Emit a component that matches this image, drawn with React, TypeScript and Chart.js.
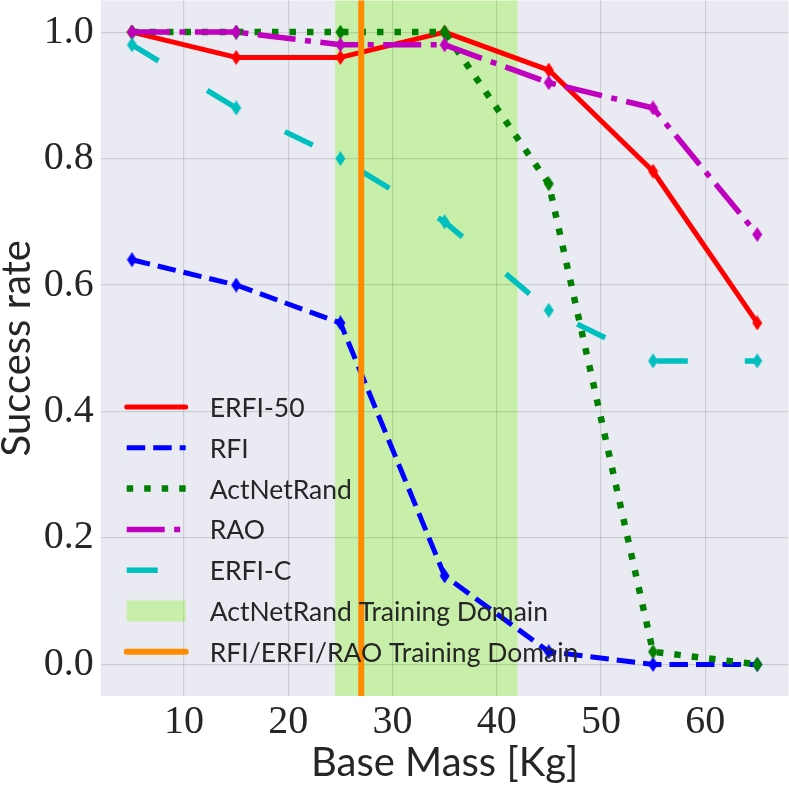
import React, { useEffect, useRef } from 'react';
import { Chart, registerables } from 'chart.js';

Chart.register(...registerables);

// values
const massKg = [5, 15, 25, 35, 45, 55, 65];
const erfi50 = [1.0, 0.96, 0.96, 1.0, 0.94, 0.78, 0.54];
const rfi = [0.64, 0.6, 0.54, 0.14, 0.02, 0.0, 0.0];
const actNetRand = [1.0, 1.0, 1.0, 1.0, 0.76, 0.02, 0.0];
const rao = [1.0, 1.0, 0.98, 0.98, 0.92, 0.88, 0.68];
const erfiC = [0.98, 0.88, 0.8, 0.7, 0.56, 0.48, 0.48];

const xTicks = [10, 20, 30, 40, 50, 60];
const yTicks = [0, 0.2, 0.4, 0.6, 0.8, 1.0];

const actNetRandDomain = [24.5, 42];
const rfiDomainMass = 27;

const TEXT = '#262626';
const GRID = 'rgba(0,0,0,0.12)';
const SPAN = 'rgba(124,252,0,0.3)';
const ORANGE = '#ff8c00';

const series = [
  { label: 'ERFI-50', data: erfi50, color: '#ff0000', width: 5, dash: [] as number[], cap: 'round' },
  { label: 'RFI', data: rfi, color: '#0000ff', width: 5, dash: [18.5, 8], cap: 'butt' },
  { label: 'ActNetRand', data: actNetRand, color: '#008000', width: 6.5, dash: [6.5, 11], cap: 'butt' },
  { label: 'RAO', data: rao, color: '#bf00bf', width: 5.5, dash: [38, 9.5, 6, 9.5], cap: 'butt' },
  { label: 'ERFI-C', data: erfiC, color: '#00bfbf', width: 5.5, dash: [31, 57], cap: 'butt' },
];

function thinDiamond(color: string) {
  const c = document.createElement('canvas');
  c.width = 11;
  c.height = 15;
  const g = c.getContext('2d')!;
  g.fillStyle = color;
  g.beginPath();
  g.moveTo(5.5, 0);
  g.lineTo(10.5, 7.5);
  g.lineTo(5.5, 15);
  g.lineTo(0.5, 7.5);
  g.closePath();
  g.fill();
  return c;
}

const backdropPlugin = {
  id: 'backdrop',
  beforeDraw(chart: any) {
    const { ctx, chartArea, scales } = chart;
    ctx.save();
    ctx.fillStyle = '#eaeaf2';
    ctx.fillRect(chartArea.left, chartArea.top, chartArea.width, chartArea.height);
    const a = scales.x.getPixelForValue(actNetRandDomain[0]);
    const b = scales.x.getPixelForValue(actNetRandDomain[1]);
    ctx.fillStyle = SPAN;
    ctx.fillRect(a, chartArea.top, b - a, chartArea.height);
    ctx.restore();
  },
  afterDatasetsDraw(chart: any) {
    const { ctx, chartArea, scales } = chart;
    const x = scales.x.getPixelForValue(rfiDomainMass);
    ctx.save();
    ctx.strokeStyle = ORANGE;
    ctx.lineWidth = 6;
    ctx.beginPath();
    ctx.moveTo(x, chartArea.top);
    ctx.lineTo(x, chartArea.bottom);
    ctx.stroke();
    ctx.restore();
  },
};

const legendPlugin = {
  id: 'plotLegend',
  afterDraw(chart: any) {
    const { ctx, chartArea } = chart;
    const x0 = chartArea.left + 26;
    const x1 = x0 + 59;
    const tx = chartArea.left + 109;
    const rowY = (i: number) => chartArea.bottom - 289 + i * 40.8;
    ctx.save();
    ctx.font = '26.5px Lato';
    ctx.fillStyle = TEXT;
    ctx.textBaseline = 'middle';
    ctx.textAlign = 'left';
    series.forEach((s, i) => {
      const y = rowY(i);
      ctx.strokeStyle = s.color;
      ctx.lineWidth = s.width;
      ctx.lineCap = s.cap;
      ctx.setLineDash(s.dash);
      ctx.beginPath();
      ctx.moveTo(x0, y);
      ctx.lineTo(x1, y);
      ctx.stroke();
      ctx.setLineDash([]);
      ctx.fillText(s.label, tx, y + 1.5);
    });
    let y = rowY(5);
    ctx.fillStyle = SPAN;
    ctx.fillRect(x0, y - 10.5, x1 - x0, 21);
    ctx.fillStyle = TEXT;
    ctx.fillText('ActNetRand Training Domain', tx, y + 1.5);
    y = rowY(6);
    ctx.strokeStyle = ORANGE;
    ctx.lineWidth = 6;
    ctx.lineCap = 'round';
    ctx.beginPath();
    ctx.moveTo(x0, y);
    ctx.lineTo(x1, y);
    ctx.stroke();
    ctx.fillText('RFI/ERFI/RAO Training Domain', tx, y + 1.5);
    ctx.restore();
  },
};

const App: React.FC = () => {
  const canvasRef = useRef<HTMLCanvasElement>(null);
  const chartRef = useRef<Chart>();

  useEffect(() => {
    if (!canvasRef.current) return;
    const ctx = canvasRef.current.getContext('2d');
    if (!ctx) return;

    chartRef.current = new Chart(ctx, {
      type: 'line',
      data: {
        datasets: series.map((s, i) => ({
          label: s.label,
          data: massKg.map((m, k) => ({ x: m, y: s.data[k] })),
          borderColor: s.color,
          backgroundColor: s.color,
          borderWidth: s.width,
          borderDash: s.dash,
          borderCapStyle: s.cap as CanvasLineCap,
          borderJoinStyle: 'round',
          pointStyle: thinDiamond(s.color) as any,
          pointRadius: 0.5,
          pointHoverRadius: 0,
          pointBorderWidth: 0,
          pointHoverBorderWidth: 0,
          tension: 0,
          fill: false,
          order: series.length - 1 - i,
        })),
      },
      options: {
        animation: false,
        responsive: true,
        maintainAspectRatio: false,
        layout: { padding: { top: 0, right: 0, left: 0, bottom: 0 } },
        plugins: { legend: { display: false }, tooltip: { enabled: false } },
        scales: {
          x: {
            type: 'linear',
            min: 2,
            max: 68,
            afterBuildTicks: (s: any) => {
              s.ticks = xTicks.map((v) => ({ value: v }));
            },
            afterFit: (s: any) => {
              s.height = 93;
              s.paddingLeft = 0;
              s.paddingRight = 0;
            },
            grid: { color: GRID, lineWidth: 1.2, drawTicks: false },
            border: { display: false },
            ticks: {
              autoSkip: false,
              maxRotation: 0,
              padding: 2,
              color: TEXT,
              font: { family: 'Liberation Serif', size: 40 },
              callback: (v: any) => String(v),
            },
            title: {
              display: true,
              text: 'Base Mass [Kg]',
              color: TEXT,
              font: { family: 'Lato', size: 40, lineHeight: 1 },
              padding: { top: 0, bottom: 6 },
            },
          },
          y: {
            type: 'linear',
            min: -0.05,
            max: 1.05,
            afterBuildTicks: (s: any) => {
              s.ticks = yTicks.map((v) => ({ value: v }));
            },
            afterFit: (s: any) => {
              s.width = 100.7;
              s.paddingTop = 0;
              s.paddingBottom = 0;
            },
            grid: { color: GRID, lineWidth: 1.2, drawTicks: false },
            border: { display: false },
            ticks: {
              padding: 7,
              color: TEXT,
              font: { family: 'Liberation Serif', size: 40 },
              callback: (v: any) => Number(v).toFixed(1),
            },
            title: {
              display: true,
              text: 'Success rate',
              color: TEXT,
              font: { family: 'Lato', size: 40, lineHeight: 0.85 },
              padding: { top: 0, bottom: 0 },
            },
          },
        },
      },
      plugins: [backdropPlugin, legendPlugin],
    });

    return () => {
      if (chartRef.current) {
        chartRef.current.destroy();
      }
    };
  }, []);

  return (
    <div style={{ position: 'fixed', left: 0, top: 0, width: 789, height: 789, background: '#fff' }}>
      <canvas ref={canvasRef} />
    </div>
  );
};

export default App;
